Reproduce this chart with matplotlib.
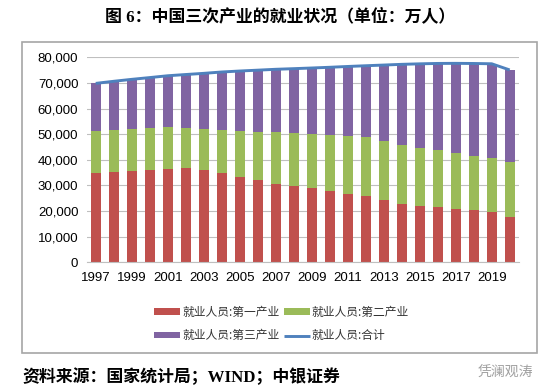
import matplotlib
matplotlib.use("Agg")
import matplotlib.pyplot as plt
from matplotlib.patches import Rectangle
from matplotlib.ticker import FuncFormatter
import numpy as np

plt.rcParams['font.family'] = ['Liberation Sans', 'Noto Sans CJK SC', 'DejaVu Sans']

years = list(range(1997, 2021))
primary = [34840, 35177, 35768, 36043, 36399, 36640, 36204, 34830, 33442, 31941,
           30731, 29923, 28890, 27931, 26594, 25773, 24171, 22790, 21919, 21496,
           20944, 20258, 19445, 17715]
secondary = [16547, 16600, 16421, 16219, 16234, 15682, 15927, 16709, 17766, 18894,
             20186, 20553, 21080, 21842, 22544, 23241, 23170, 23099, 22693, 22350,
             21824, 21390, 21305, 21543]
tertiary = [18432, 18860, 19205, 19823, 20165, 20958, 21605, 22725, 23439, 24143,
            24404, 25087, 25857, 26332, 27282, 27690, 29636, 31364, 32839, 33757,
            34872, 35938, 36721, 35806]
total = [69820, 70637, 71394, 72085, 72797, 73280, 73736, 74264, 74647, 74978,
         75321, 75564, 75828, 76105, 76420, 76704, 76977, 77253, 77451, 77603,
         77640, 77586, 77471, 75064]
labels = ['就业人员:第一产业', '就业人员:第二产业', '就业人员:第三产业', '就业人员:合计']

W, H = 550, 392
fig = plt.figure(figsize=(W / 100, H / 100), dpi=100)
ax = fig.add_axes([86.7 / W, 1 - 262.3 / H, (518.7 - 86.7) / W, (262.3 - 57.3) / H])

x = np.arange(len(years))
p = np.array(primary)
s = np.array(secondary)
t = np.array(tertiary)
bw = 0.556
b1 = ax.bar(x, p, bw, color='#C0504D', zorder=2)
b2 = ax.bar(x, s, bw, bottom=p, color='#9BBB59', zorder=2)
b3 = ax.bar(x, t, bw, bottom=p + s, color='#8064A2', zorder=2)
l4, = ax.plot(x, total, color='#4F81BD', lw=2.1, zorder=3, solid_capstyle='butt')

ax.set_xlim(-0.5, len(years) - 0.5)
ax.set_ylim(0, 80000)
ax.set_yticks(np.arange(0, 80001, 10000))
ax.yaxis.set_major_formatter(FuncFormatter(lambda v, _: f'{int(v):,}'))
ax.set_xticks(x[::2])
ax.set_xticklabels([str(y) for y in years[::2]])
ax.tick_params(axis='both', length=0, labelsize=9.5, colors='black')
ax.tick_params(axis='x', pad=7)
ax.tick_params(axis='y', pad=6)
ax.grid(axis='y', color='#BFBFBF', lw=0.8, zorder=0)
for sp in ['top', 'right', 'left']:
    ax.spines[sp].set_visible(False)
ax.spines['bottom'].set_color('#BFBFBF')
ax.spines['bottom'].set_linewidth(0.8)

leg = fig.legend([b1, b3, b2, l4], [labels[0], labels[2], labels[1], labels[3]],
                 ncol=2, loc='center', bbox_to_anchor=(0.512, 1 - 324 / H),
                 bbox_transform=fig.transFigure, frameon=False,
                 prop={'family': ['Noto Sans CJK SC'], 'size': 8.5},
                 handlelength=2.2, handleheight=0.5, handletextpad=0.15,
                 columnspacing=0.4, labelspacing=0.9)
for txt in leg.get_texts():
    txt.set_color('#333333')

# outer frame
fig.patches.append(Rectangle((22 / W, 1 - 353 / H), (537 - 22) / W, (353 - 42) / H,
                             transform=fig.transFigure, fill=False,
                             edgecolor='#A6A6A6', lw=1.2))

fig.text(280 / W, 1 - 17 / H, '图 6：中国三次产业的就业状况（单位：万人）',
         ha='center', va='center', fontsize=12.2, fontweight='bold',
         family=['Liberation Serif', 'Noto Sans CJK SC'])
fig.text(22 / W, 1 - 377 / H, '资料来源：国家统计局；WIND；中银证券',
         ha='left', va='center', fontsize=12.2, fontweight='bold',
         family=['Liberation Serif', 'Noto Sans CJK SC'])
fig.text(533 / W, 1 - 372 / H, '凭澜观涛', ha='right', va='center', fontsize=10,
         color='#A0A0A0', family=['Noto Sans CJK SC'])

fig.savefig('out.png', dpi=100)
